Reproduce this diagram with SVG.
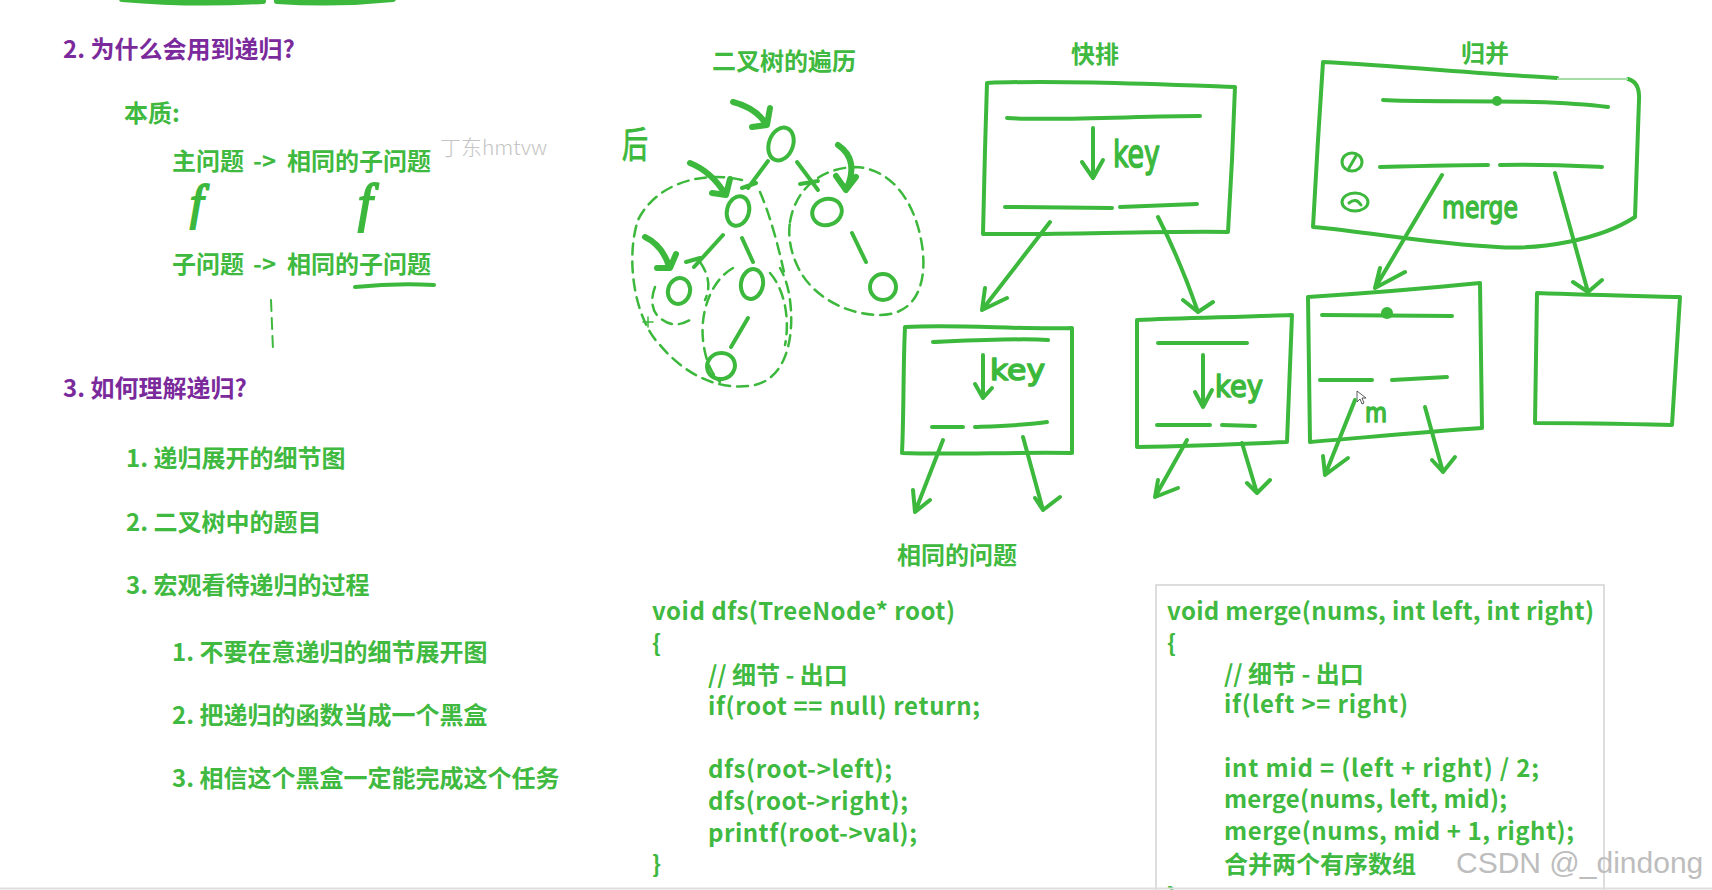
<svg xmlns="http://www.w3.org/2000/svg" width="1712" height="890" viewBox="0 0 1712 890">
<style>
.ink{fill:none;stroke:#3cb83c;stroke-width:4;stroke-linecap:round;stroke-linejoin:round}
.thick{stroke-width:6}
.dash{stroke-width:2.5;stroke-dasharray:11 7}
.t{font-family:"Noto Sans CJK SC","Liberation Sans",sans-serif;font-weight:700;font-size:24px}
.g{fill:#3fb93f}
.p{fill:#7b2a9c}
.hand{font-family:"DejaVu Sans","Liberation Sans",sans-serif;fill:#3cb83c;stroke:#3cb83c;stroke-width:1.6;stroke-linejoin:round}
.dot{fill:#3cb83c}
</style>
<rect x="0" y="0" width="1712" height="890" fill="#ffffff"/>

<!-- top stroke remnant -->
<g id="top-strokes">
<path class="ink" style="stroke-width:6" d="M122,-1 Q190,5 263,1 M277,1 Q335,5 393,-1"/>
</g>

<!-- left outline text -->
<g id="outline">
<text class="t p" x="63" y="58">2. 为什么会用到递归?</text>
<text class="t g" x="124" y="122">本质:</text>
<text class="t g" y="170"><tspan x="172">主问题</tspan><tspan x="253">-&gt;</tspan><tspan x="287">相同的子问题</tspan></text>
<text x="440" y="155" style="font-family:'Noto Sans CJK SC','Liberation Sans',sans-serif;font-size:21px;font-weight:300;fill:#c4c4c4">丁东hmtvw</text>
<text x="190" y="219" style="font-family:'Liberation Serif',serif;font-style:italic;font-size:48px;fill:#3cb83c;stroke:#3cb83c;stroke-width:2">f</text>
<text x="358" y="221" style="font-family:'Liberation Serif',serif;font-style:italic;font-size:52px;fill:#3cb83c;stroke:#3cb83c;stroke-width:2">f</text>
<text class="t g" y="273"><tspan x="172">子问题</tspan><tspan x="253">-&gt;</tspan><tspan x="287">相同的子问题</tspan></text>
<path class="ink" d="M355,287 Q395,283 434,285"/>
<path class="ink dash" style="stroke-width:2" d="M271,300 L273,350"/>
<text class="t p" x="63" y="397">3. 如何理解递归?</text>
<text class="t g" x="126" y="467">1. 递归展开的细节图</text>
<text class="t g" x="126" y="531">2. 二叉树中的题目</text>
<text class="t g" x="126" y="594">3. 宏观看待递归的过程</text>
<text class="t g" x="172" y="661">1. 不要在意递归的细节展开图</text>
<text class="t g" x="172" y="724">2. 把递归的函数当成一个黑盒</text>
<text class="t g" x="172" y="787">3. 相信这个黑盒一定能完成这个任务</text>
</g>

<!-- titles -->
<g id="titles">
<text class="t g" x="712" y="70">二叉树的遍历</text>
<text class="t g" x="1071" y="63">快排</text>
<text class="t g" x="1461" y="62">归并</text>
<text class="t g" x="897" y="564">相同的问题</text>
</g>

<!-- binary tree -->
<g id="tree">
<text x="622" y="158" class="hand" style="font-family:'Noto Sans CJK SC',sans-serif;font-size:36px;font-weight:400;stroke-width:1" textLength="26" lengthAdjust="spacingAndGlyphs">后</text>
<g id="n-root"><ellipse class="ink" cx="781" cy="144" rx="12" ry="17" transform="rotate(20 781 144)"/></g>
<g id="n-left"><ellipse class="ink" cx="738" cy="211" rx="11" ry="15" transform="rotate(15 738 211)"/></g>
<g id="n-right"><ellipse class="ink" cx="827" cy="212" rx="15" ry="13" transform="rotate(-20 827 212)"/></g>
<g id="n-ll"><ellipse class="ink" cx="679" cy="291" rx="11" ry="13" transform="rotate(15 679 291)"/></g>
<g id="n-lr"><ellipse class="ink" cx="752" cy="284" rx="11" ry="15" transform="rotate(10 752 284)"/></g>
<g id="n-rr"><ellipse class="ink" cx="883" cy="287" rx="13" ry="13"/></g>
<g id="n-bottom"><ellipse class="ink" cx="721" cy="366" rx="14" ry="13" transform="rotate(-15 721 366)"/></g>
<g id="tree-dashes">
<path class="ink dash" d="M742,180 C700,170 655,185 638,220 C625,260 635,320 660,345 C685,375 720,392 755,385 C785,378 795,340 790,300 C788,285 784,275 780,268"/>
<path class="ink dash" d="M760,192 C770,215 778,245 784,272"/>
<path class="ink dash" d="M655,287 C650,300 652,312 660,318 C668,325 678,327 690,320"/>
<path class="ink dash" d="M700,262 C707,272 712,285 705,300"/>
<path class="ink dash" d="M733,268 C712,280 700,310 703,340 C705,360 712,375 720,382"/>
<path class="ink dash" d="M770,273 C785,290 790,320 785,345"/>
<path class="ink dash" d="M790,222 C795,190 820,168 855,167 C890,168 915,200 922,245 C928,285 915,315 880,315 C845,315 810,295 797,265 C790,250 788,235 790,222"/>
<path class="ink" style="stroke-width:1.5" d="M643,322 L653,322 M648,317 L648,327"/>
</g>
</g>

<!-- quick sort boxes -->
<g id="qs-main">
<path class="ink" d="M987,83 C1050,80 1150,84 1235,87 L1232,160 L1228,232 C1150,231 1060,235 983,234 L985,150 Z"/>
<path class="ink" d="M1007,118 C1060,121 1140,116 1200,116"/>
<path class="ink" d="M1093,128 L1093,177 M1082,162 L1093,178 L1103,160"/>
<text class="hand" x="1113" y="167" style="font-size:38px" textLength="47" lengthAdjust="spacingAndGlyphs">key</text>
<path class="ink" d="M1005,207 L1112,208 M1120,207 L1197,204"/>
</g>
<g id="qs-left">
<path class="ink" d="M905,327 C960,324 1020,330 1072,328 L1072,453 C1010,452 950,455 902,453 C904,410 903,370 905,327 Z"/>
<path class="ink" d="M933,342 C980,340 1020,338 1048,340"/>
<path class="ink" d="M983,355 L983,398 M975,384 L983,398 L992,388"/>
<text class="hand" x="990" y="380" style="font-size:28px" textLength="55" lengthAdjust="spacingAndGlyphs">key</text>
<path class="ink" d="M932,427 L963,427 M975,427 C1000,426 1030,425 1047,422"/>
</g>
<g id="qs-right">
<path class="ink" d="M1137,320 C1180,318 1240,317 1292,315 L1287,442 C1240,444 1190,446 1137,447 Z"/>
<path class="ink" d="M1158,343 L1247,343"/>
<path class="ink" d="M1203,355 L1203,407 M1195,392 L1203,407 L1212,390"/>
<text class="hand" x="1215" y="397" style="font-size:30px" textLength="48" lengthAdjust="spacingAndGlyphs">key</text>
<path class="ink" d="M1157,425 L1210,425 M1222,425 L1255,426"/>
</g>

<!-- merge boxes -->
<g id="ms-main">
<path class="ink" d="M1557,78 C1480,74 1400,66 1323,62 L1318,140 L1313,227 C1370,232 1430,244 1497,247 C1540,250 1600,240 1635,217 L1639,100 Q1640,82 1628,79"/>
<path d="M1557,79 L1628,79" style="stroke:#a6dca6;stroke-width:2;fill:none"/>
<path class="ink" d="M1383,100 C1430,103 1540,98 1608,107"/>
<circle class="dot" cx="1497" cy="101" r="5"/>
<ellipse class="ink" style="stroke-width:3" cx="1352" cy="162" rx="10" ry="9"/>
<path class="ink" style="stroke-width:3" d="M1349,168 L1356,156"/>
<path class="ink" d="M1380,167 C1420,166 1460,165 1488,165 M1500,165 C1540,164 1580,166 1602,167"/>
<ellipse class="ink" style="stroke-width:3" cx="1355" cy="202" rx="13" ry="9"/>
<path class="ink" style="stroke-width:3" d="M1349,203 Q1356,197 1361,205"/>
<text class="hand" x="1442" y="218" style="font-size:31px" textLength="76" lengthAdjust="spacingAndGlyphs">merge</text>
</g>
<g id="ms-left">
<path class="ink" d="M1308,297 C1370,293 1430,288 1480,283 L1482,428 C1420,432 1360,438 1310,442 Z"/>
<path class="ink" d="M1322,315 L1452,316"/>
<circle class="dot" cx="1387" cy="313" r="6"/>
<path class="ink" d="M1320,380 L1372,380 M1392,380 L1447,377"/>
<text class="hand" x="1365" y="422" style="font-size:26px" textLength="22" lengthAdjust="spacingAndGlyphs">m</text>
<path d="M1357,391 L1357,402 L1360,399 L1362,404 L1364,403 L1362,398 L1366,398 Z" style="fill:#ffffff;stroke:#333333;stroke-width:0.8"/>
</g>
<g id="ms-right">
<path class="ink" d="M1537,293 C1590,295 1640,296 1680,297 L1672,425 C1630,424 1580,423 1535,423 Z"/>
</g>

<!-- connectors -->
<g id="connectors">
<path class="ink" d="M768,161 L748,188 M742,188 L756,183"/>
<path class="ink" d="M797,162 L818,190 M800,184 L818,181"/>
<path class="ink" d="M723,235 L694,267 M686,262 L700,258"/>
<path class="ink" d="M742,238 L753,262"/>
<path class="ink" d="M852,233 L866,262"/>
<path class="ink" d="M748,318 L731,347"/>
<path class="ink thick" d="M733,102 Q756,108 766,124 M770,108 L767,125 L752,127"/>
<path class="ink thick" d="M690,163 Q712,172 725,194 M730,179 L726,195 L712,193"/>
<path class="ink thick" d="M645,237 Q662,245 669,266 M676,254 L670,268 L657,268"/>
<path class="ink thick" d="M838,145 Q860,160 846,190 M836,176 L846,190 L856,177"/>
<path class="ink" d="M1050,222 L982,310 M985,288 L982,310 L1007,298"/>
<path class="ink" d="M1158,217 Q1180,260 1198,312 M1183,300 L1198,312 L1213,302"/>
<path class="ink" d="M943,440 L915,512 M913,490 L915,512 L930,500"/>
<path class="ink" d="M1023,437 L1043,510 M1035,498 L1043,510 L1060,497"/>
<path class="ink" d="M1187,440 L1155,497 M1158,480 L1155,497 L1178,488"/>
<path class="ink" d="M1242,443 L1257,493 M1247,483 L1257,493 L1270,480"/>
<path class="ink" d="M1442,175 L1375,288 M1380,268 L1375,288 L1405,272"/>
<path class="ink" d="M1555,173 L1588,292 M1573,282 L1588,292 L1602,280"/>
<path class="ink" d="M1355,400 L1325,475 M1323,456 L1325,475 L1348,458"/>
<path class="ink" d="M1425,407 L1443,472 M1432,460 L1443,472 L1455,457"/>
</g>

<!-- code blocks -->
<g id="code-dfs" class="t g">
<text x="652" y="620" textLength="303">void dfs(TreeNode* root)</text>
<text x="652" y="652">{</text>
<text x="708" y="684">// 细节 - 出口</text>
<text x="708" y="715" textLength="272">if(root == null) return;</text>
<text x="708" y="778" textLength="184">dfs(root-&gt;left);</text>
<text x="708" y="810" textLength="200">dfs(root-&gt;right);</text>
<text x="708" y="842" textLength="209">printf(root-&gt;val);</text>
<text x="652" y="873">}</text>
</g>
<g id="code-merge">
<rect x="1156" y="585" width="448" height="320" fill="none" stroke="#d2d2d2" stroke-width="1.5"/>
<g class="t g">
<text x="1167" y="620" textLength="427">void merge(nums, int left, int right)</text>
<text x="1167" y="652">{</text>
<text x="1224" y="683">// 细节 - 出口</text>
<text x="1224" y="713" textLength="184">if(left &gt;= right)</text>
<text x="1224" y="777" textLength="315">int mid = (left + right) / 2;</text>
<text x="1224" y="808" textLength="283">merge(nums, left, mid);</text>
<text x="1224" y="840" textLength="350">merge(nums, mid + 1, right);</text>
<text x="1224" y="873">合并两个有序数组</text>
<text x="1167" y="905">}</text>
</g>
</g>
<line x1="0" y1="888.5" x2="1712" y2="888.5" stroke="#dedede" stroke-width="2"/>
<text x="1456" y="873" style="font-family:'Liberation Sans',sans-serif;font-size:30px;fill:#bdbdbd">CSDN @_dindong</text>
</svg>
